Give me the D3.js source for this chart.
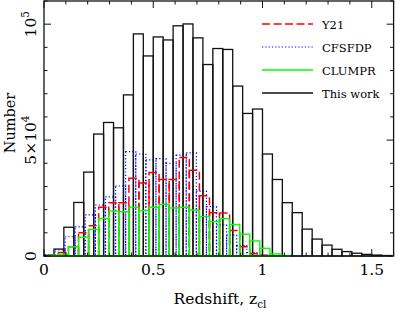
<!DOCTYPE html>
<meta charset="utf-8">
<style>
body { margin: 0; background: #fff; }
text { font-family: "DejaVu Serif", "Liberation Serif", serif; fill: #000; }
</style>
<body>
<script src="https://cdn.jsdelivr.net/npm/d3@7"></script>
<script>

var width = 395,
    height = 312;

// this work: bins of width 1/22 starting at z = 0
var workStart = 0, workWidth = 1 / 22;
var workCounts = [300, 3000, 12400, 23100, 36200, 52600, 57600, 55300, 69500, 95800,
  86300, 94500, 93200, 99300, 100100, 94100, 82600, 89500, 89100, 73300,
  61500, 63400, 44000, 33000, 23000, 18700, 11600, 7300, 4700, 2900,
  1900, 1200, 700, 400, 200];

// the other catalogues use slightly wider, shifted bins
var y21Start = 0.0197, y21Width = 0.0461;
var y21Counts = [300, 1500, 4000, 10000, 13000, 21000, 23000, 23000, 33500, 31500,
  36000, 33000, 33000, 42500, 37000, 26000, 18700, 18500, 11000, 4000, 1000, 300];
var cfsfdpStart = 0.0041, cfsfdpWidth = 0.0462;
var cfsfdpCounts = [500, 2600, 8300, 12600, 17700, 22000, 25500, 30200, 45000, 44000,
  41500, 42000, 40000, 43500, 44500, 28000, 21300, 13400, 9000, 4500, 1500, 400, 100];
var clumprStart = 0.0197, clumprWidth = 0.0461;
var clumprCounts = [300, 800, 4000, 8100, 11500, 16200, 19400, 19100, 21000, 19500,
  21000, 22300, 20700, 21000, 19800, 17000, 14800, 16100, 13600, 9400,
  6500, 3300, 900, 200];

var legendNames = ["Y21", "CFSFDP", "CLUMPR", "This work"];

var xTicks = [0, 0.5, 1, 1.5];
var yTicks = [0, 50000, 100000];

var x = d3.scaleLinear().domain([0, 1.6]).range([44, 393.6]);
var y = d3.scaleLinear().domain([0, 110000]).range([256, 1]);

var svg = d3.select("body").append("svg")
    .attr("width", width)
    .attr("height", height);

function bars(counts, start, w) {
  return counts.map(function(c, i) {
    return {x0: start + i * w, x1: start + (i + 1) * w, n: c};
  });
}

function drawHist(data, cls, stroke, dash, sw) {
  svg.append("g").attr("class", cls)
    .selectAll("rect")
    .data(data)
    .enter().append("rect")
    .attr("x", function(d) { return x(d.x0); })
    .attr("y", function(d) { return y(d.n); })
    .attr("width", function(d) { return x(d.x1) - x(d.x0); })
    .attr("height", function(d) { return y(0) - y(d.n); })
    .attr("fill", "none")
    .attr("stroke", stroke)
    .attr("stroke-width", sw)
    .attr("stroke-dasharray", dash);
}

drawHist(bars(workCounts, workStart, workWidth), "work", "#111", null, 1.3);
drawHist(bars(cfsfdpCounts, cfsfdpStart, cfsfdpWidth), "cfsfdp", "#0000ff", "1.2,2.1", 1.2);
drawHist(bars(y21Counts, y21Start, y21Width), "y21", "#ff0000", "8,3.5", 1.5);
drawHist(bars(clumprCounts, clumprStart, clumprWidth), "clumpr", "#00ff00", null, 1.4);

// frame and ticks
var minorX = d3.range(0, 1.61, 0.1);
var minorY = d3.range(0, 110001, 10000);

var axG = svg.append("g").attr("stroke", "#111").attr("stroke-width", 1);
function isMajor(v, list) {
  return list.some(function(m) { return Math.abs(m - v) < 1e-6; });
}
minorX.forEach(function(v) {
  var len = isMajor(v, xTicks) ? 7 : 3.5;
  axG.append("line").attr("x1", x(v)).attr("x2", x(v)).attr("y1", y.range()[0]).attr("y2", y.range()[0] - len);
  axG.append("line").attr("x1", x(v)).attr("x2", x(v)).attr("y1", y.range()[1]).attr("y2", y.range()[1] + len);
});
minorY.forEach(function(v) {
  var len = isMajor(v, yTicks) ? 7 : 3.5;
  axG.append("line").attr("y1", y(v)).attr("y2", y(v)).attr("x1", x.range()[0]).attr("x2", x.range()[0] + len);
  axG.append("line").attr("y1", y(v)).attr("y2", y(v)).attr("x1", x.range()[1]).attr("x2", x.range()[1] - len);
});
svg.append("rect")
  .attr("x", x.range()[0]).attr("y", y.range()[1])
  .attr("width", x.range()[1] - x.range()[0])
  .attr("height", y.range()[0] - y.range()[1])
  .attr("fill", "none").attr("stroke", "#111").attr("stroke-width", 1.3);

// x tick labels
svg.selectAll(".xlab")
  .data(xTicks)
  .enter().append("text")
  .attr("class", "xlab")
  .attr("x", function(d) { return x(d); })
  .attr("y", 275)
  .attr("text-anchor", "middle")
  .style("font-size", "15.5px")
  .text(function(d) { return d; });

// y tick labels, rotated
var yl = svg.selectAll(".ylab")
  .data(yTicks)
  .enter().append("text")
  .attr("class", "ylab")
  .attr("transform", function(d) { return "translate(36," + y(d) + ") rotate(-90)"; })
  .attr("text-anchor", "middle")
  .style("font-size", "15.5px");
yl.each(function(d) {
  var t = d3.select(this);
  if (d === 0) t.text("0");
  else if (d === 50000) {
    t.append("tspan").text("5×10");
    t.append("tspan").attr("dy", -7).style("font-size", "10.5px").text("4");
  } else {
    t.append("tspan").text("10");
    t.append("tspan").attr("dy", -7).style("font-size", "10.5px").text("5");
  }
});

svg.append("text")
  .attr("transform", "translate(14.5,123) rotate(-90)")
  .attr("text-anchor", "middle")
  .style("font-size", "14.5px")
  .text("Number");

var xl = svg.append("text")
  .attr("x", 220).attr("y", 304)
  .attr("text-anchor", "middle")
  .style("font-size", "15.5px");
xl.append("tspan").text("Redshift, z");
xl.append("tspan").attr("dy", 4).style("font-size", "10.5px").text("cl");

// legend
var legStyle = [
  {stroke: "#ff0000", dash: "8,3.5", sw: 1.5},
  {stroke: "#0000ff", dash: "1.2,2.1", sw: 1.2},
  {stroke: "#00ff00", dash: null, sw: 1.4},
  {stroke: "#111", dash: null, sw: 1.3}
];
var legY = [24, 47, 70, 93];
var leg = svg.selectAll(".leg")
  .data(legendNames)
  .enter().append("g")
  .attr("class", "leg")
  .attr("transform", function(d, i) { return "translate(0," + legY[i] + ")"; });
leg.append("line")
  .attr("x1", 262).attr("x2", 313)
  .attr("stroke", function(d, i) { return legStyle[i].stroke; })
  .attr("stroke-width", function(d, i) { return legStyle[i].sw; })
  .attr("stroke-dasharray", function(d, i) { return legStyle[i].dash; });
leg.append("text")
  .attr("x", 322).attr("y", 4.5)
  .style("font-size", "11.5px")
  .text(function(d) { return d; });

</script>
</body>
